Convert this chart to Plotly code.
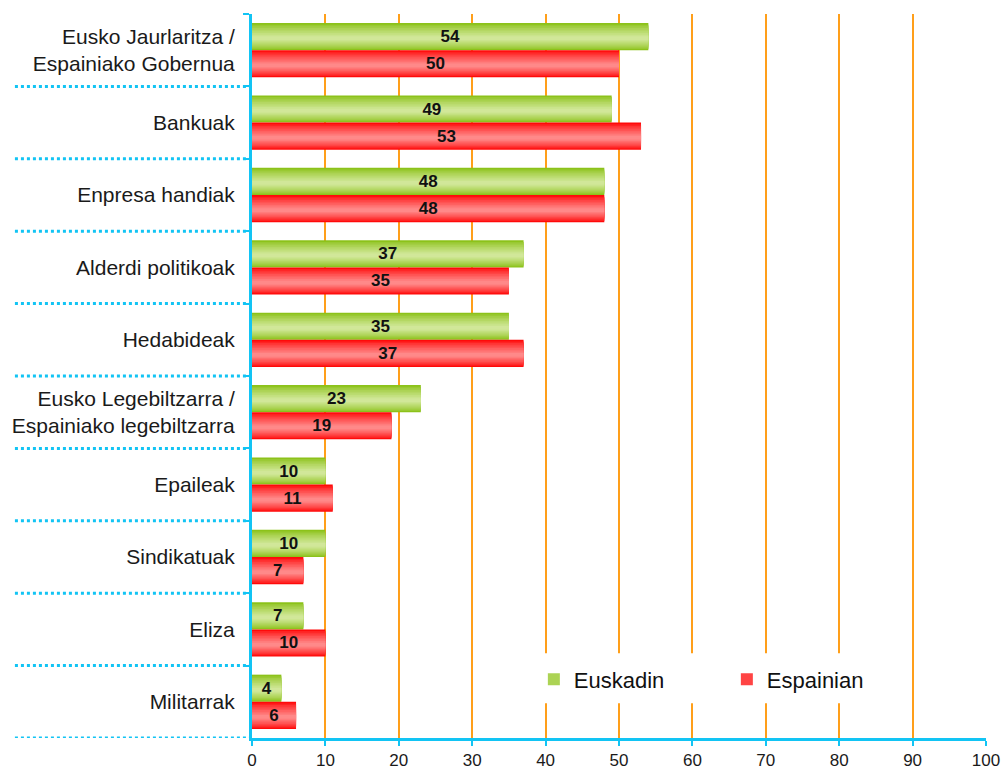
import plotly.graph_objects as go

categories = [
    "Eusko Jaurlaritza /<br>Espainiako Gobernua",
    "Bankuak",
    "Enpresa handiak",
    "Alderdi politikoak",
    "Hedabideak",
    "Eusko Legebiltzarra /<br>Espainiako legebiltzarra",
    "Epaileak",
    "Sindikatuak",
    "Eliza",
    "Militarrak",
]
euskadin = [54, 49, 48, 37, 35, 23, 10, 10, 7, 4]
espainian = [50, 53, 48, 35, 37, 19, 11, 7, 10, 6]
series_names = ["Euskadin", "Espainian"]
x_ticks = [0, 10, 20, 30, 40, 50, 60, 70, 80, 90, 100]

FONT = "Arial, Liberation Sans, sans-serif"
CYAN = "#12c4f4"
ORANGE = "#ff9f1a"

BAR_W = 0.375


def hex_to_rgb(h):
    h = h.lstrip("#")
    return tuple(int(h[i:i + 2], 16) for i in (0, 2, 4))


def mix(c1, c2, t):
    a, b = hex_to_rgb(c1), hex_to_rgb(c2)
    return "rgb(%d,%d,%d)" % tuple(round(a[i] + (b[i] - a[i]) * t) for i in range(3))


fig = go.Figure()

series = [
    (euskadin, series_names[0], -BAR_W, "#8cc21a", "#d8eba6"),
    (espainian, series_names[1], 0.0, "#ff0a0a", "#ff9595"),
]

K = 9
for vals, name, off, edge, light in series:
    for j in range(K):
        f = j / K
        a = 0.55 * f
        b = 1 - 0.42 * f
        fig.add_trace(go.Bar(
            y=categories, x=vals, orientation="h",
            offset=off + a * BAR_W, width=(b - a) * BAR_W,
            marker=dict(color=mix(edge, light, (f ** 0.8)), line=dict(width=0)),
            name=name, showlegend=(j == 3), legendgroup=name,
            hoverinfo="skip",
        ))
    fig.add_trace(go.Bar(
        y=categories, x=vals, orientation="h",
        offset=off, width=BAR_W,
        marker=dict(color="rgba(0,0,0,0)", line=dict(width=0)),
        text=[str(v) for v in vals], textposition="inside",
        insidetextanchor="middle", constraintext="none",
        textfont=dict(family=FONT, size=17, color="#111111", weight="bold"),
        showlegend=False, legendgroup=name, hoverinfo="skip",
    ))

n = len(categories)
for i in range(n):
    fig.add_shape(type="line", xref="paper", yref="y",
                  x0=-0.323, x1=0, y0=i + 0.5, y1=i + 0.5,
                  line=dict(color=CYAN, width=3, dash="dot"), layer="above")

# white panel behind the legend (hides the gridlines there)
fig.add_shape(type="rect", xref="paper", yref="paper",
              x0=0.392, x1=0.89, y0=0.048, y1=0.117,
              fillcolor="white", line=dict(width=0), layer="above")

fig.update_layout(
    barmode="overlay",
    width=1003, height=773,
    margin=dict(l=252, r=17, t=14, b=35),
    paper_bgcolor="white", plot_bgcolor="white",
    font=dict(family=FONT, color="#1a1a1a"),
    showlegend=True,
    legend=dict(orientation="h", x=0.384, y=0.081, xanchor="left", yanchor="middle",
                bgcolor="rgba(255,255,255,0)", borderwidth=0,
                font=dict(family=FONT, size=22, color="#111111"),
                entrywidth=148, traceorder="normal"),
    xaxis=dict(range=[0, 100], tickvals=x_ticks, showgrid=True, gridcolor=ORANGE, gridwidth=1.5,
               zeroline=False, showline=True, linecolor=CYAN, linewidth=3, automargin=False,
               ticks="outside", ticklen=5, tickwidth=2, tickcolor=CYAN,
               tickfont=dict(family=FONT, size=17, color="#1a1a1a")),
    yaxis=dict(range=[n - 0.5, -0.5], showgrid=False, zeroline=False, automargin=False,
               showline=True, linecolor=CYAN, linewidth=3,
               ticks="outside", tickson="boundaries", ticklen=6, tickwidth=2, tickcolor=CYAN,
               ticklabelstandoff=10,
               tickfont=dict(family=FONT, size=21, color="#1a1a1a")),
)

fig.write_html("out.html",
               config={"displayModeBar": False},
               post_script="document.body.style.margin='0';document.body.style.overflow='hidden';")
